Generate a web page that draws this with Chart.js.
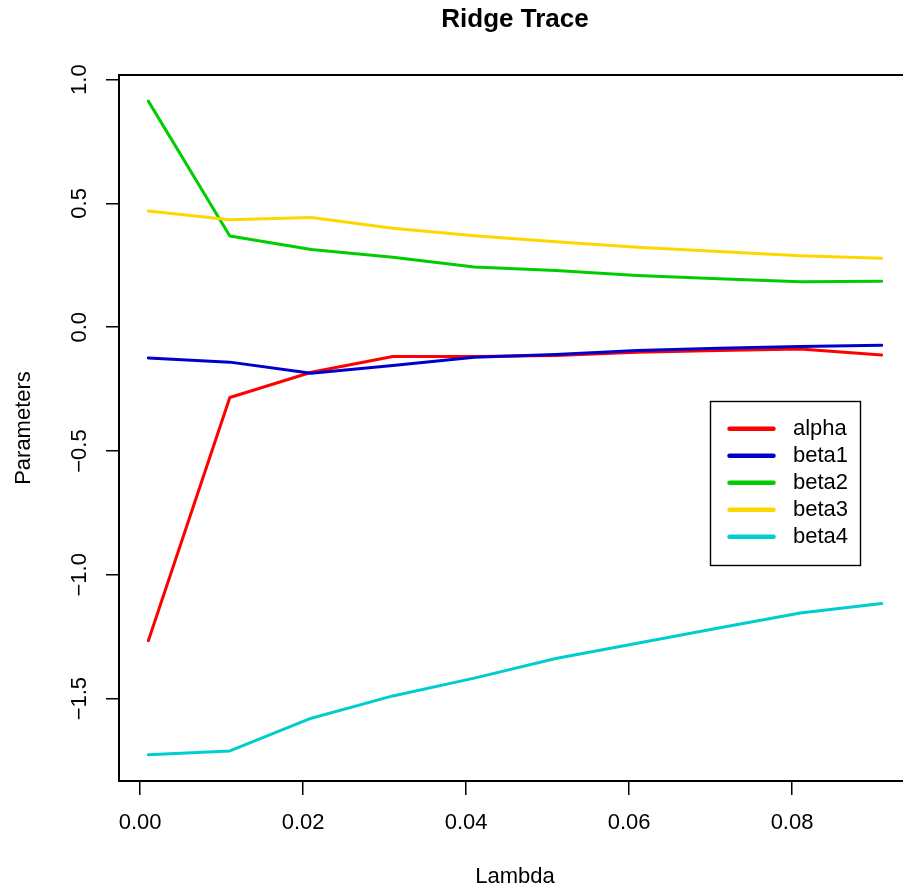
<!DOCTYPE html>
<html><head><meta charset="utf-8">
<script src="https://cdn.jsdelivr.net/npm/chart.js@4"></script>
<style>
html,body{margin:0;padding:0;background:#fff;overflow:hidden;}
#wrap{width:903px;height:894px;overflow:hidden;position:relative;background:#fff;}
canvas{display:block;}
</style>
</head><body><div id="wrap"><canvas id="c" width="920" height="894"></canvas></div>
<script>
const lambdas = [0.001,0.011,0.021,0.031,0.041,0.051,0.061,0.071,0.081,0.091];
const alpha = [-1.266,-0.284,-0.182,-0.118,-0.118,-0.114,-0.101,-0.094,-0.088,-0.112];
const beta1 = [-0.124,-0.141,-0.186,-0.155,-0.121,-0.110,-0.094,-0.085,-0.078,-0.073];
const beta2 = [0.913,0.368,0.314,0.283,0.243,0.229,0.209,0.196,0.184,0.186];
const beta3 = [0.469,0.434,0.443,0.400,0.369,0.345,0.323,0.306,0.289,0.279];
const beta4 = [-1.727,-1.711,-1.579,-1.489,-1.417,-1.338,-1.276,-1.215,-1.154,-1.116];
const seriesNames = ['alpha','beta1','beta2','beta3','beta4'];
const seriesValues = [alpha, beta1, beta2, beta3, beta4];
const seriesColors = ['#FF0000','#0000CD','#00CD00','#FFD700','#00CDCD'];
const xTicks = [0, 0.02, 0.04, 0.06, 0.08];
const yTicks = [-1.5, -1.0, -0.5, 0.0, 0.5, 1.0];
const xLimits = [-0.0026, 0.0946];
const yLimits = [-1.8326, 1.0186];
const legendAt = [0.07, -0.3];

const FONT = "'Liberation Sans', Arial, Helvetica, sans-serif";

const datasets = seriesNames.map((name, k) => ({
  label: name,
  data: lambdas.map((l, i) => ({x: l, y: seriesValues[k][i]})),
  borderColor: seriesColors[k],
  backgroundColor: seriesColors[k],
  borderWidth: 3,
  pointRadius: 0,
  pointHoverRadius: 0,
  tension: 0,
  fill: false,
  borderCapStyle: 'round',
  borderJoinStyle: 'round',
  order: seriesNames.length - k
}));

const boxLegend = {
  id: 'boxLegend',
  afterDraw(chart) {
    const {ctx, scales: {x, y}} = chart;
    const bx = Math.round(x.getPixelForValue(legendAt[0])) - 0.5;
    const by = Math.round(y.getPixelForValue(legendAt[1])) - 0.5;
    const w = 150, h = 164;
    ctx.save();
    ctx.fillStyle = '#fff';
    ctx.fillRect(bx, by, w, h);
    ctx.lineWidth = 1.4;
    ctx.strokeStyle = '#000';
    ctx.strokeRect(bx, by, w, h);
    chart.data.datasets.forEach((ds, i) => {
      const yy = by + 27.3 + i * 27;
      ctx.beginPath();
      ctx.strokeStyle = ds.borderColor;
      ctx.lineWidth = 4.5;
      ctx.lineCap = 'round';
      ctx.moveTo(bx + 19, yy);
      ctx.lineTo(bx + 63, yy);
      ctx.stroke();
      ctx.fillStyle = '#000';
      ctx.font = '22px ' + FONT;
      ctx.textBaseline = 'middle';
      ctx.textAlign = 'left';
      ctx.fillText(ds.label, bx + 82.5, yy);
    });
    ctx.restore();
  }
};

const fmtY = v => v.toFixed(1).replace('-', '\u2212');

new Chart(document.getElementById('c'), {
  type: 'line',
  data: {datasets},
  plugins: [boxLegend],
  options: {
    responsive: false,
    animation: false,
    devicePixelRatio: 1,
    layout: {padding: {left: 0, right: 9, top: 0, bottom: 0}},
    plugins: {
      legend: {display: false},
      tooltip: {enabled: false},
      title: {
        display: true, text: 'Ridge Trace', color: '#000', fullSize: false,
        font: {family: FONT, size: 26, weight: 'bold'},
        padding: {top: 4.5, bottom: 39.3}
      }
    },
    scales: {
      x: {
        type: 'linear', position: 'bottom', min: xLimits[0], max: xLimits[1],
        afterBuildTicks: s => { s.ticks = xTicks.map(v => ({value: v})); },
        ticks: {callback: v => v.toFixed(2), color: '#000', font: {family: FONT, size: 22},
                padding: 15.2, autoSkip: false, minRotation: 0, maxRotation: 0},
        grid: {display: true, drawOnChartArea: false, drawTicks: true, tickLength: 14, color: '#000', lineWidth: 1.5},
        border: {display: true, color: '#000', width: 2},
        title: {display: true, text: 'Lambda', color: '#000', font: {family: FONT, size: 22},
                padding: {top: 12.4, bottom: 3.4}}
      },
      x2: {
        type: 'linear', position: 'top', display: true,
        ticks: {display: false}, grid: {display: false, drawTicks: false},
        border: {display: true, color: '#000', width: 2}
      },
      y: {
        type: 'linear', position: 'left', min: yLimits[0], max: yLimits[1],
        afterBuildTicks: s => { s.ticks = yTicks.map(v => ({value: v})); },
        ticks: {callback: fmtY, color: '#000', font: {family: FONT, size: 22},
                padding: 4.4, minRotation: 90, maxRotation: 90, crossAlign: 'center', autoSkip: false},
        grid: {display: true, drawOnChartArea: false, drawTicks: true, tickLength: 13, color: '#000', lineWidth: 1.5},
        border: {display: true, color: '#000', width: 2},
        title: {display: true, text: 'Parameters', color: '#000', font: {family: FONT, size: 22},
                padding: {top: 11.2, bottom: 33.2}}
      },
      y2: {
        type: 'linear', position: 'right', display: true,
        ticks: {display: false}, grid: {display: false, drawTicks: false},
        border: {display: true, color: '#000', width: 2}
      }
    }
  }
});
</script>
</body></html>
